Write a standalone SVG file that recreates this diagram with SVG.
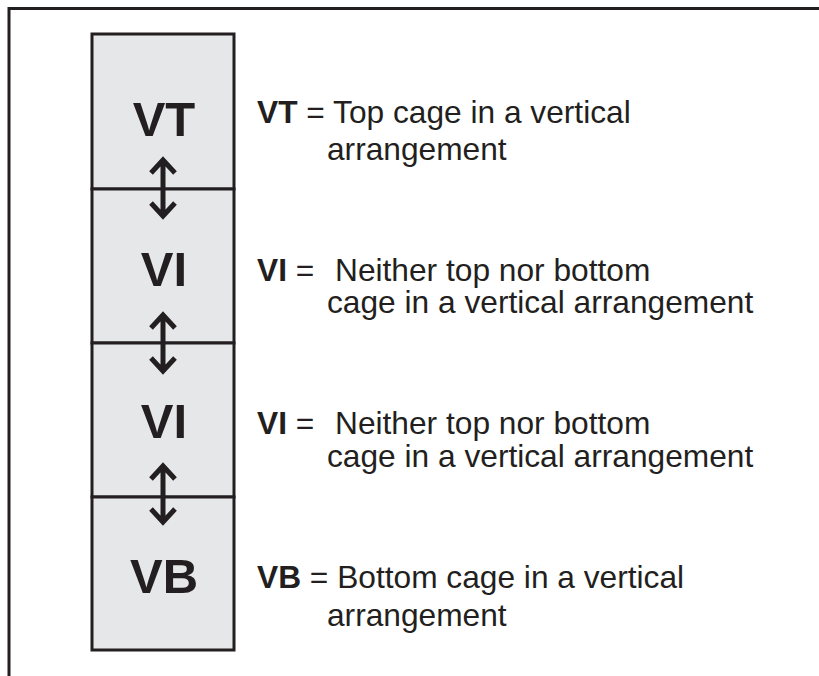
<svg xmlns="http://www.w3.org/2000/svg" width="819" height="676" viewBox="0 0 819 676">
<style>
.frame{fill:none;stroke:#231f20;stroke-width:3}
.cell{fill:#e6e7e8;stroke:#231f20;stroke-width:3}
.big{font-family:"Liberation Sans",Arial,sans-serif;font-weight:bold;font-size:49px;fill:#231f20;text-anchor:middle}
.t{font-family:"Liberation Sans",Arial,sans-serif;font-size:31.7px;fill:#231f20}
.b{font-weight:bold}
.arr{fill:none;stroke:#231f20;stroke-width:5;stroke-linecap:butt;stroke-linejoin:miter}
</style>
<rect width="819" height="676" fill="#ffffff"/>
<path class="frame" d="M9,676 V8.5 H819"/>
<g id="VT">
<rect class="cell" x="92" y="34" width="142" height="155"/>
<text class="big" x="164" y="136">VT</text>
</g>
<g id="VI1">
<rect class="cell" x="92" y="189" width="142" height="154"/>
<text class="big" x="164" y="286">VI</text>
</g>
<g id="VI2">
<rect class="cell" x="92" y="343" width="142" height="154"/>
<text class="big" x="164" y="438">VI</text>
</g>
<g id="VB">
<rect class="cell" x="92" y="497" width="142" height="153"/>
<text class="big" x="164" y="593">VB</text>
</g>
<g id="connectors">
<g class="arr">
<path d="M163,160 V216 M151,173 L163,160 L175,173 M151,203 L163,216 L175,203"/>
<path d="M163,315 V371 M151,328 L163,315 L175,328 M151,358 L163,371 L175,358"/>
<path d="M163,466 V522 M151,479 L163,466 L175,479 M151,509 L163,522 L175,509"/>
</g>
</g>
<g id="legend-VT">
<text class="t" x="257" y="123"><tspan class="b">VT</tspan> = Top cage in a vertical</text>
<text class="t" x="327" y="160">arrangement</text>
</g>
<g id="legend-VI1">
<text class="t" x="257" y="281"><tspan class="b">VI</tspan> =<tspan x="335">Neither top nor bottom</tspan></text>
<text class="t" x="327" y="313">cage in a vertical arrangement</text>
</g>
<g id="legend-VI2">
<text class="t" x="257" y="434"><tspan class="b">VI</tspan> =<tspan x="335">Neither top nor bottom</tspan></text>
<text class="t" x="327" y="467">cage in a vertical arrangement</text>
</g>
<g id="legend-VB">
<text class="t" x="257" y="588"><tspan class="b">VB</tspan> = Bottom cage in a vertical</text>
<text class="t" x="327" y="626">arrangement</text>
</g>
</svg>
